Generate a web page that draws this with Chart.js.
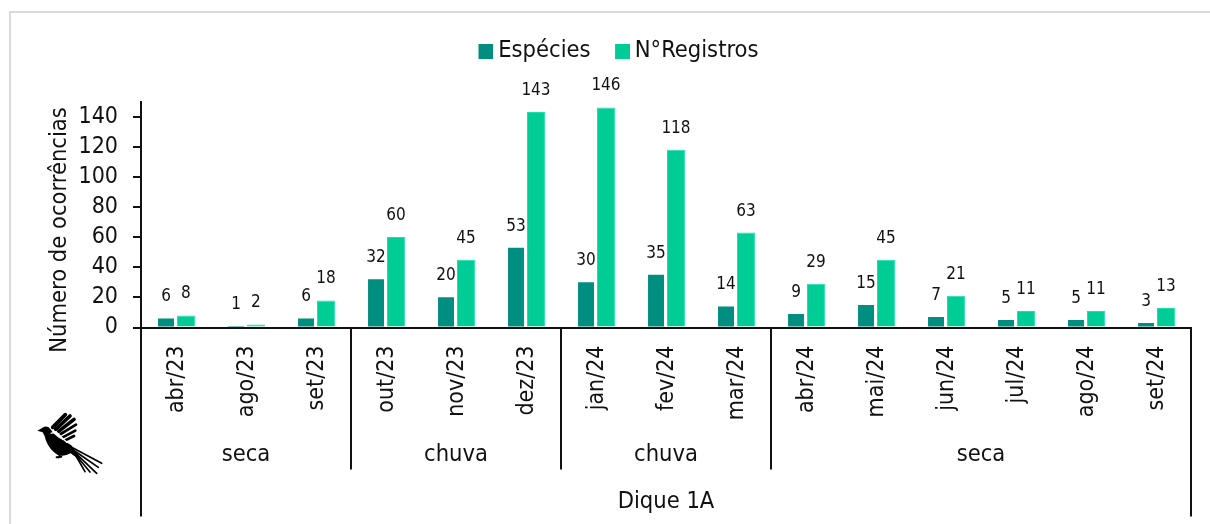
<!DOCTYPE html>
<html>
<head>
<meta charset="utf-8">
<style>
  html, body { margin:0; padding:0; background:#fff; overflow:hidden; }
  #frame { position:absolute; left:9px; top:11px; width:1201px; height:513px; border-left:2px solid #d9d9d9; border-top:2px solid #d9d9d9; box-sizing:border-box; }
  #wrap { position:absolute; left:39px; top:0; width:1171px; height:524px; }
  #bird { position:absolute; left:30px; top:400px; }
</style>
<script src="https://cdn.jsdelivr.net/npm/chart.js@4"></script>
</head>
<body>
<div id="frame"></div>
<svg id="bird" width="80" height="80" viewBox="0 0 240 240">
  <path d="M22 92 L35 85 Q45 76 56 82 Q64 90 70 100 L84 112 L104 124 L124 136 L144 165 L152 182 L122 160 Q100 172 82 164 Q58 148 48 122 Q44 106 38 97 Z" fill="#000"/>
  <g stroke="#000" fill="none" stroke-linecap="round">
    <g stroke-width="11">
      <path d="M68 82 L106 44"/><path d="M77 88 L120 48"/><path d="M86 94 L132 58"/>
    </g>
    <g stroke-width="8">
      <path d="M92 102 L138 74"/><path d="M98 112 L136 92"/><path d="M104 122 L132 108"/>
    </g>
    <g stroke-width="5">
      <path d="M125 142 L215 190"/><path d="M130 150 L205 202"/><path d="M132 155 L200 220"/><path d="M135 162 L180 216"/><path d="M138 168 L165 215"/>
    </g>
    <path d="M92 160 L86 172" stroke-width="6"/>
    <path d="M80 172 L94 170" stroke-width="6"/>
  </g>
  <path d="M62 100 L78 96 L112 128" stroke="#fff" stroke-width="4" fill="none"/>
</svg>
<div id="wrap"><canvas id="chart" width="1171" height="524"></canvas></div>
<script>
const categories = ["abr/23","ago/23","set/23","out/23","nov/23","dez/23","jan/24","fev/24","mar/24","abr/24","mai/24","jun/24","jul/24","ago/24","set/24"];
const especies = [6,1,6,32,20,53,30,35,14,9,15,7,5,5,3];
const registros = [8,2,18,60,45,143,146,118,63,29,45,21,11,11,13];
const periodNames = ["seca","chuva","chuva","seca"];
const periodLengths = [3,3,3,6];
const groupName = "Dique 1A";
const yTitle = "Número de ocorrências";

const FONT = '"DejaVu Sans Condensed", "DejaVu Sans", sans-serif';
const INK = "#111";
const COLOR_ESP = "#008e80";
const COLOR_REG = "#00cc96";

// legend key: square sits on the right of a wider image, closer to its text
function legendKey(color){
  const c = document.createElement("canvas");
  c.width = 29; c.height = 15;
  const g = c.getContext("2d");
  g.fillStyle = color;
  g.fillRect(14, 0, 15, 15);
  return c;
}

// value labels above the bars, and the two lower levels of the category axis
const extras = {
  id: "extras",
  beforeLayout(chart){
    // taller legend band so the plot top lands under it
    const legend = chart.legend;
    if(legend && !legend._patched){
      const fit = legend.fit;
      legend.fit = function(){ fit.call(this); this.height = 79.5; };
      legend._patched = true;
    }
  },
  afterDatasetsDraw(chart){
    const ctx = chart.ctx;
    ctx.save();
    ctx.fillStyle = INK;
    ctx.textAlign = "center";
    ctx.textBaseline = "middle";
    ctx.font = "17px " + FONT;
    chart.data.datasets.forEach((ds,i)=>{
      chart.getDatasetMeta(i).data.forEach((bar,j)=>{
        ctx.fillText(ds.data[j], bar.x, bar.y - 21.5);
      });
    });
    ctx.restore();
  },
  afterDraw(chart){
    const ctx = chart.ctx;
    const x = chart.scales.x;
    const area = chart.chartArea;
    const step = x.width / categories.length;
    const y0 = area.bottom;
    ctx.save();
    ctx.strokeStyle = INK;
    ctx.lineWidth = 2;
    ctx.fillStyle = INK;
    ctx.textAlign = "center";
    ctx.textBaseline = "middle";
    ctx.font = "23.5px " + FONT;

    let start = 0;
    periodNames.forEach((name,i)=>{
      const end = start + periodLengths[i];
      const xa = x.left + start*step, xb = x.left + end*step;
      ctx.fillText(name, (xa+xb)/2, 455);
      if(end < categories.length){
        ctx.beginPath(); ctx.moveTo(xb, y0); ctx.lineTo(xb, 469.5); ctx.stroke();
      }
      start = end;
    });

    ctx.beginPath(); ctx.moveTo(x.left, y0); ctx.lineTo(x.left, 516.5); ctx.stroke();
    ctx.beginPath(); ctx.moveTo(x.right, y0); ctx.lineTo(x.right, 516.5); ctx.stroke();
    ctx.fillText(groupName, (x.left+x.right)/2, 502);

    ctx.translate(21, 230);
    ctx.rotate(-Math.PI/2);
    ctx.fillText(yTitle, 0, 0);
    ctx.restore();
  }
};

new Chart(document.getElementById("chart"), {
  type: "bar",
  data: {
    labels: categories,
    datasets: [
      { label:"Espécies", data:especies, backgroundColor:COLOR_ESP, borderWidth:0, barPercentage:0.8 },
      { label:"N°Registros", data:registros, backgroundColor:COLOR_REG, borderColor:"#1ce0ac", borderWidth:1, barPercentage:0.9 }
    ]
  },
  options: {
    responsive:false,
    animation:false,
    layout:{ padding:{ top:22, right:19, bottom:0, left:0 } },
    datasets:{ bar:{ categoryPercentage:0.57 } },
    plugins:{
      tooltip:{ enabled:false },
      legend:{
        position:"top",
        labels:{
          font:{ family:FONT, size:23.5 }, color:INK, boxWidth:15, boxHeight:15, padding:17.5,
          usePointStyle:true,
          generateLabels(chart){
            const keys = [legendKey(COLOR_ESP), legendKey(COLOR_REG)];
            return Chart.defaults.plugins.legend.labels.generateLabels(chart).map((item,i)=>{
              item.pointStyle = keys[i];
              return item;
            });
          }
        }
      }
    },
    scales:{
      x:{
        grid:{ display:false },
        border:{ color:INK, width:2 },
        ticks:{ font:{ family:FONT, size:23 }, color:INK, minRotation:90, maxRotation:90, autoSkip:false, padding:10, labelOffset:1 },
        afterFit(s){ s.height = 524 - 327.5; }
      },
      y:{
        min:0, max:150,
        grid:{ drawOnChartArea:false, drawTicks:true, tickLength:8, color:INK, lineWidth:2 },
        border:{ color:INK, width:2 },
        ticks:{ stepSize:20, includeBounds:false, font:{ family:FONT, size:23 }, color:INK, padding:15 },
        afterFit(s){ s.width = 102; }
      }
    }
  },
  plugins:[extras]
});
</script>
</body>
</html>
